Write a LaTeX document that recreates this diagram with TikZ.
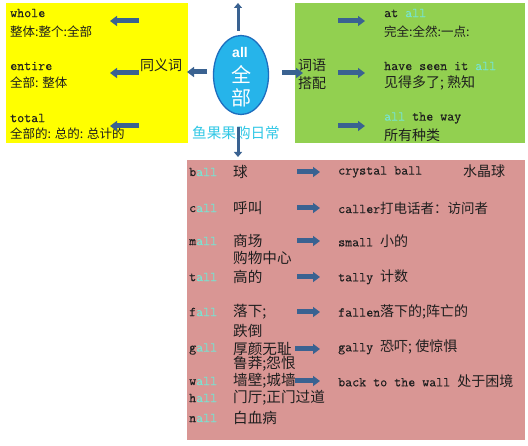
\documentclass[tikz,border=0pt]{standalone}
\usepackage{fontspec}
\newfontfamily\lmm[FakeBold=0.3]{Latin Modern Mono}
\newfontfamily\cjk{Noto Sans CJK SC}
\newfontfamily\lsans{Liberation Sans}
\usetikzlibrary{arrows.meta,shapes.geometric}
\definecolor{yel}{RGB}{255,255,0}
\definecolor{grn}{RGB}{146,208,80}
\definecolor{pnk}{RGB}{217,150,148}
\definecolor{arrc}{RGB}{58,98,145}
\definecolor{ellf}{RGB}{38,180,234}
\definecolor{elld}{RGB}{30,110,190}
\definecolor{allc}{RGB}{120,228,210}
\definecolor{cyt}{RGB}{50,200,230}
\definecolor{txt}{RGB}{30,30,30}
\newcommand\hall{\textcolor{allc}{all}}
\newcommand\mfont{\lmm\fontsize{13.6}{15}\selectfont}
\tikzset{
  lbl/.style={inner sep=0pt, anchor=west, text=txt},
  mt/.style={lbl, font=\mfont},
  ztA/.style={lbl, font=\cjk\fontsize{12.5}{14}\selectfont},
  ztB/.style={lbl, font=\cjk\fontsize{14}{16}\selectfont},
  ztC/.style={lbl, font=\cjk\fontsize{14.6}{16}\selectfont},
  blk/.style={draw=arrc, line width=5pt, -{Triangle[width=10pt,length=7pt]}},
  thinblk/.style={draw=arrc, line width=3pt, -{Triangle[width=8pt,length=5pt]}},
}
\begin{document}
\begin{tikzpicture}[x=1pt,y=-1pt]
\useasboundingbox (0,0) rectangle (528,446);
\fill[white] (0,0) rectangle (528,446);
% boxes
\node[fill=yel, inner sep=0pt, minimum width=182pt, minimum height=140pt, anchor=north west] (ybox) at (6,3) {};
\node[fill=grn, inner sep=0pt, minimum width=230pt, minimum height=140pt, anchor=north west] (gbox) at (295,3) {};
\node[fill=pnk, inner sep=0pt, minimum width=338pt, minimum height=280pt, anchor=north west] (pbox) at (187,160) {};
% centre
\node[ellipse, draw=elld, line width=1.3pt, fill=ellf, minimum width=55pt, minimum height=79pt, inner sep=0pt] (c) at (241,75) {};
\node[inner sep=0pt, text=white, font=\lsans\bfseries\fontsize{14}{14}\selectfont] (call) at (240,52) {all};
\node[inner sep=0pt, text=white, font=\cjk\fontsize{20}{20}\selectfont] (cq) at (241,75) {全};
\node[inner sep=0pt, text=white, font=\cjk\fontsize{20}{20}\selectfont] (cb) at (241,98) {部};
\node[inner sep=0pt, text=cyt, font=\cjk\fontsize{14.6}{16}\selectfont] (yg) at (236,133) {鱼果果购日常};
% centre arrows
\coordinate (us) at (238,31); \coordinate (ue) at (238,3);
\coordinate (ls) at (207,72); \coordinate (le) at (187,72);
\coordinate (rs) at (282,73); \coordinate (re) at (303,73);
\coordinate (ds) at (238,127); \coordinate (de) at (238,157);
\draw[thinblk] (us) -- (ue);
\draw[blk] (ls) -- (le);
\draw[blk] (rs) -- (re);
\draw[thinblk] (ds) -- (de);
% yellow box
\node[mt] (y1) at (10,13) {whole};
\node[ztA] (y1c) at (10,32) {整体:整个:全部};
\node[mt] (y2) at (10,66) {entire};
\node[ztA] (y2c) at (10,83) {全部: 整体};
\node[mt] (y3) at (10,118) {total};
\node[ztA] (y3c) at (10,134) {全部的: 总的: 总计的};
\node[ztB] (syn) at (140,65) {同义词};
\foreach \yy/\n in {21/a,73/b,126/c}{
  \coordinate (ya\n) at (139,\yy); \coordinate (yb\n) at (110,\yy);
  \draw[blk] (ya\n) -- (yb\n);
}
% green box
\node[mt] (g1) at (384,13) {at \hall};
\node[ztA] (g1c) at (384,32) {完全:全然:一点:};
\node[mt] (g2) at (384,66) {have seen it \hall};
\node[ztB] (g2c) at (384,83) {见得多了; 熟知};
\node[mt] (g3) at (384,118) {\hall{} the way};
\node[ztB] (g3c) at (384,135) {所有种类};
\node[ztB] (col1) at (298,65) {词语};
\node[ztB] (col2) at (298,83) {搭配};
\foreach \yy/\n in {21/a,73/b,126/c}{
  \coordinate (ga\n) at (338,\yy); \coordinate (gb\n) at (365,\yy);
  \draw[blk] (ga\n) -- (gb\n);
}
% pink box left column
\node[mt] (p1) at (189,172) {b\hall};
\node[ztC] (p1c) at (233,172) {球};
\node[mt] (p2) at (189,208) {c\hall};
\node[ztC] (p2c) at (233,208) {呼叫};
\node[mt] (p3) at (189,241) {m\hall};
\node[ztC] (p3c) at (233,241) {商场};
\node[ztC] (p3d) at (233,258) {购物中心};
\node[mt] (p4) at (189,277) {t\hall};
\node[ztC] (p4c) at (233,277) {高的};
\node[mt] (p5) at (189,312) {f\hall};
\node[ztC] (p5c) at (233,312) {落下;};
\node[ztC] (p5d) at (233,331) {跌倒};
\node[mt] (p6) at (189,349) {g\hall};
\node[ztC] (p6c) at (233,349) {厚颜无耻};
\node[ztC] (p6d) at (233,364) {鲁莽;怨恨};
\node[mt] (p7) at (189,381) {w\hall};
\node[ztC] (p7c) at (233,381) {墙壁;城墙};
\node[mt] (p8) at (189,398) {h\hall};
\node[ztC] (p8c) at (233,398) {门厅;正门过道};
\node[mt] (p9) at (189,418) {n\hall};
\node[ztC] (p9c) at (233,418) {白血病};
% pink arrows
\foreach \yy/\xs/\n in {172/297/a,208/297/b,241/297/c,277/297/d,312/297/e,349/295/f,381/295/g}{
  \coordinate (pa\n) at (\xs,\yy); \coordinate (pb\n) at (320,\yy);
  \draw[blk] (pa\n) -- (pb\n);
}
% pink right column
\node[mt] (r1) at (338,172) {crystal ball};
\node[ztB] (r1c) at (463,171) {水晶球};
\node[lbl] (r2) at (338,208) {{\mfont caller}{\cjk\fontsize{13.5}{15}\selectfont 打电话者：访问者}};
\node[lbl] (r3) at (338,241) {{\mfont small }{\cjk\fontsize{14}{16}\selectfont 小的}};
\node[lbl] (r4) at (338,277) {{\mfont tally }{\cjk\fontsize{14}{16}\selectfont 计数}};
\node[lbl] (r5) at (338,312) {{\mfont fallen}{\cjk\fontsize{14}{16}\selectfont 落下的;阵亡的}};
\node[lbl] (r6) at (338,347) {{\mfont gally }{\cjk\fontsize{14}{16}\selectfont 恐吓; 使惊惧}};
\node[lbl] (r7) at (338,381) {{\mfont back to the wall }{\cjk\fontsize{14}{16}\selectfont 处于困境}};
\end{tikzpicture}
\end{document}
